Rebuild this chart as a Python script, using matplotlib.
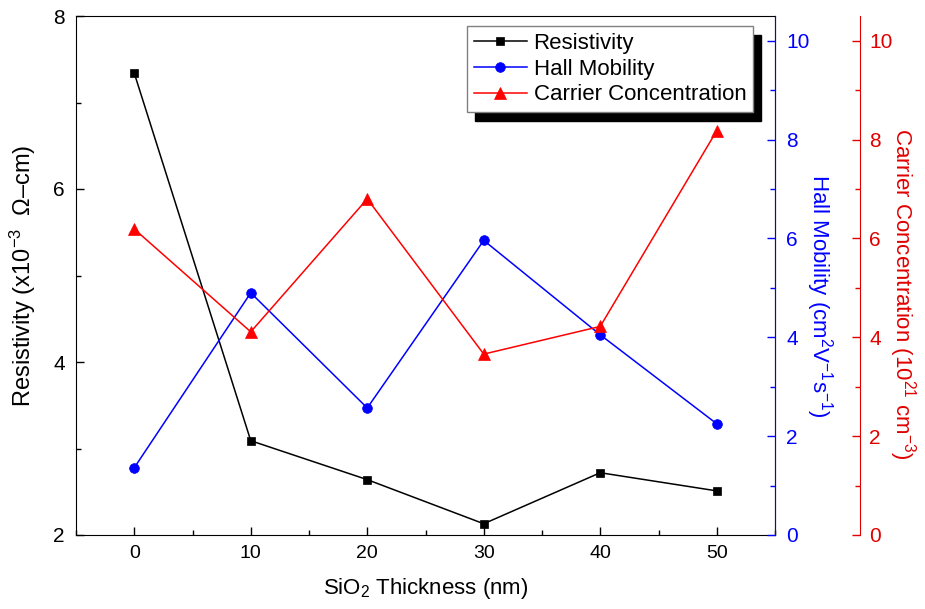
import matplotlib
matplotlib.use("Agg")
import matplotlib.pyplot as plt
from matplotlib.ticker import MultipleLocator

plt.rcParams['font.family'] = ['Liberation Sans', 'DejaVu Sans']
plt.rcParams['mathtext.fontset'] = 'custom'
plt.rcParams['mathtext.rm'] = 'Liberation Sans'
plt.rcParams['mathtext.it'] = 'Liberation Sans'

thickness = [0, 10, 20, 30, 40, 50]
resistivity = [7.34, 3.09, 2.64, 2.13, 2.72, 2.51]
hall_mobility = [1.36, 4.90, 2.57, 5.96, 4.05, 2.25]
carrier_conc = [6.19, 4.11, 6.80, 3.66, 4.22, 8.18]

XTFS = 14
YTFS = 15
LFS = 16
fig = plt.figure(figsize=(9.25, 6.09), dpi=100)
ax = fig.add_axes([76/925, 1-535/609, (775-76)/925, (535-16)/609])
ax2 = ax.twinx()
ax3 = ax.twinx()

l1, = ax.plot(thickness, resistivity, '-s', color='black', lw=1.1, ms=6.2, mew=0.5, label='Resistivity')
l2, = ax2.plot(thickness, hall_mobility, '-o', color='#0000FF', lw=1.1, ms=7, mew=0.5, label='Hall Mobility')
l3, = ax3.plot(thickness, carrier_conc, '-^', color='#FF0000', lw=1.1, ms=9, mew=0.5, label='Carrier Concentration')

ax.set_xlim(-5, 55)
ax.set_ylim(2, 8)
ax2.set_ylim(0, 10.5)
ax3.set_ylim(0, 10.5)

ax.xaxis.set_major_locator(MultipleLocator(10))
ax.xaxis.set_minor_locator(MultipleLocator(5))
ax.yaxis.set_major_locator(MultipleLocator(2))
ax.yaxis.set_minor_locator(MultipleLocator(1))
for a in (ax2, ax3):
    a.yaxis.set_major_locator(MultipleLocator(2))
    a.yaxis.set_minor_locator(MultipleLocator(1))

ax.tick_params(which='both', direction='in', top=False, right=False)
ax.tick_params(axis='x', labelsize=XTFS, pad=7)
ax.tick_params(axis='y', labelsize=YTFS, pad=8)
ax.tick_params(which='major', length=6, width=1)
ax.tick_params(which='minor', length=3.5, width=1)

blue = '#0000FF'
red = '#E00000'
ax2.spines['right'].set_color(blue)
ax2.tick_params(axis='y', which='both', direction='in', colors=blue, labelsize=YTFS, pad=8)
ax2.tick_params(which='major', length=6, width=1)
ax2.tick_params(which='minor', length=3.5, width=1)

ax3.spines['right'].set_position(('outward', 61))
ax3.spines['right'].set_color(red)
ax3.tick_params(axis='y', which='both', direction='in', colors=red, labelsize=YTFS, pad=7)
ax3.tick_params(which='major', length=6, width=1)
ax3.tick_params(which='minor', length=3.5, width=1)
for s in ('top', 'left', 'bottom'):
    ax3.spines[s].set_visible(False)
    ax2.spines[s].set_visible(False)

ax.set_xlabel(r'SiO$_2$ Thickness (nm)', fontsize=LFS, labelpad=10)
ax.set_ylabel(r'Resistivity (x10$^{-3}$  Ω–cm)', fontsize=17, labelpad=11)
ax2.set_ylabel(r'Hall Mobility (cm$^2$V$^{-1}$s$^{-1}$)', fontsize=LFS, color=blue,
               rotation=270, labelpad=18, y=0.46)
ax3.set_ylabel(r'Carrier Concentration (10$^{21}$ cm$^{-3}$)', fontsize=LFS, color=red,
               rotation=270, labelpad=18, y=0.465)

leg = ax3.legend(handles=[l1, l2, l3], loc='upper right',
                 bbox_to_anchor=((753-76)/699, (535-26)/519),
                 fontsize=16, frameon=True, fancybox=False, edgecolor='#808080',
                 handlelength=2.4, handletextpad=0.3, borderpad=0.3, labelspacing=0.22,
                 borderaxespad=0,
                 shadow={'color': 'black', 'alpha': 1, 'ox': 6, 'oy': -6.5})
leg.get_frame().set_linewidth(1)

fig.savefig('out.png', dpi=100)
